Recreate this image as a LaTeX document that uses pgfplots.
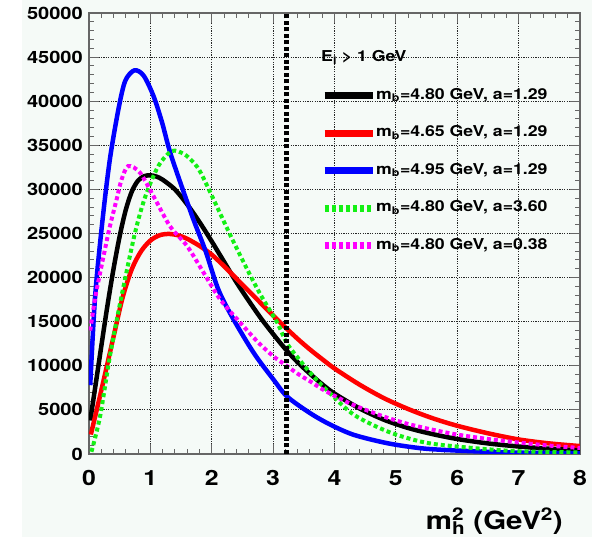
\documentclass[border=0pt]{standalone}
\usepackage{fontspec}
\setmainfont{TeX Gyre Heros}[FakeStretch=1.18]
\usepackage{pgfplots}
\pgfplotsset{compat=1.18}
\definecolor{canvas}{RGB}{245,250,247}
\definecolor{rootgreen}{RGB}{20,240,20}
\definecolor{rootmagenta}{RGB}{255,0,255}
\definecolor{rootblue}{RGB}{0,0,255}
\definecolor{rootred}{RGB}{255,0,0}

\begin{document}
\begin{tikzpicture}
\fill[white] (-89pt,-83pt) rectangle (503pt,454pt);
\fill[canvas] (-67pt,-83pt) rectangle (503pt,454pt);
\useasboundingbox (-89pt,-83pt) rectangle (503pt,454pt);
\begin{axis}[
    scale only axis,
    width=491pt, height=441pt,
    xmin=0, xmax=8, ymin=0, ymax=50000,
    xtick={0,1,...,8},
    ytick={0,5000,...,50000},
    minor x tick num=4, minor y tick num=4,
    scaled y ticks=false,
    /pgf/number format/.cd, 1000 sep={}, assume math mode=true,
    /pgfplots/.cd,
    tick align=inside,
    major tick length=10pt, minor tick length=5pt,
    every tick/.style={line width=1pt, black!60},
    axis line style={line width=1.2pt, black!60},
    grid=major,
    major grid style={dash pattern=on 1.2pt off 1.2pt, line width=0.8pt, black!85},
    xticklabel style={font=\fontsize{21}{24}\selectfont\bfseries, inner sep=0pt, yshift=-16pt},
    yticklabel style={font=\fontsize{17}{20}\selectfont\bfseries, inner sep=0pt, xshift=-6pt},
    xlabel={m\rlap{\textsuperscript{2}}\textsubscript{h} (GeV\textsuperscript{2})},
    xlabel style={at={(rel axis cs:1,0)}, anchor=base east, xshift=-17pt, yshift=-76pt,
        inner sep=0pt, font=\fontsize{25}{30}\selectfont\bfseries},
    legend style={at={(rel axis cs:0.4725,0.915)}, anchor=north west, draw=none, fill=none,
        inner sep=0pt, row sep=22.5pt, font=\fontsize{15}{18}\selectfont\bfseries,
        cells={anchor=west}, nodes={inner sep=0pt, text height=11pt, text depth=4pt},
        /tikz/every even column/.append style={column sep=7pt}},
    legend image code/.code={\draw[#1, line width=7pt] (0pt,0pt) -- (48pt,0pt);},
    every axis plot/.append style={smooth, tension=0.5},
]
\addlegendimage{empty legend}
\addlegendentry{\hspace{-55pt}E\textsubscript{l} > 1 GeV}

% m_b = 4.80, a = 1.29
\addplot[black, line width=4.5pt] coordinates {
    (0.02,3800)(0.1,7500)(0.2,12200)(0.3,16800)(0.4,21000)(0.5,24700)
    (0.6,27700)(0.7,29800)(0.8,31000)(0.9,31500)(1.0,31600)(1.1,31450)
    (1.2,31100)(1.4,30000)(1.6,28300)(1.8,26300)(2.0,24100)(2.2,21800)
    (2.4,19500)(2.6,17400)(2.8,15400)(3.0,13600)(3.2,11900)(3.4,10400)
    (3.6,9100)(3.8,7900)(4.0,6850)(4.4,5200)(4.8,3900)(5.2,2950)
    (5.6,2250)(6.0,1700)(6.5,1200)(7.0,850)(7.5,600)(8.0,450)};
\addlegendentry{m\textsubscript{b}=4.80 GeV, a=1.29}

% m_b = 4.65, a = 1.29
\addplot[rootred, line width=4.5pt] coordinates {
    (0.03,2200)(0.2,7200)(0.4,13300)(0.55,17800)(0.7,21000)(0.85,23000)
    (1.0,24200)(1.15,24800)(1.3,24950)(1.45,24800)(1.6,24400)(1.8,23600)
    (2.0,22600)(2.2,21300)(2.4,19900)(2.6,18500)(2.8,17100)(3.0,15700)
    (3.2,14350)(3.4,13050)(3.6,11850)(3.8,10750)(4.0,9700)(4.4,7900)
    (4.8,6350)(5.2,5100)(5.6,4050)(6.0,3200)(6.5,2350)(7.0,1650)
    (7.5,1200)(8.0,900)};
\addlegendentry{m\textsubscript{b}=4.65 GeV, a=1.29}

% m_b = 4.95, a = 1.29
\addplot[rootblue, line width=4.5pt] coordinates {
    (0.02,7800)(0.10,17900)(0.22,26500)(0.34,33400)(0.48,39100)(0.59,42300)
    (0.74,43500)(0.89,42900)(1.05,40600)(1.19,37600)(1.34,33800)(1.68,27000)
    (1.90,23000)(2.11,18600)(2.36,15200)(2.69,11400)(3.01,8400)(3.23,6500)
    (3.61,4600)(3.94,3300)(4.32,2160)(4.87,1210)(5.41,650)(5.90,420)
    (6.5,250)(7.0,150)(8.0,80)};
\addlegendentry{m\textsubscript{b}=4.95 GeV, a=1.29}

% m_b = 4.80, a = 3.60
\addplot[rootgreen, line width=4pt, dash pattern=on 4pt off 3pt] coordinates {
    (0.04,250)(0.18,4240)(0.34,11060)(0.53,17900)(0.75,25080)(0.92,29240)
    (1.13,32650)(1.35,34350)(1.55,34000)(1.71,33000)(1.82,31900)(2.03,28860)
    (2.31,24700)(2.58,20900)(2.80,18000)(3.07,14850)(3.22,12600)(3.45,10500)
    (3.67,8700)(3.94,6800)(4.32,4430)(4.87,2540)(5.41,1400)(5.90,910)
    (6.91,340)(8.0,180)};
\addlegendentry{m\textsubscript{b}=4.80 GeV, a=3.60}

% m_b = 4.80, a = 0.38
\addplot[rootmagenta, line width=4pt, dash pattern=on 4pt off 3pt] coordinates {
    (0.02,14000)(0.10,17700)(0.18,20500)(0.26,23200)(0.34,25800)(0.45,28860)
    (0.53,31100)(0.64,32650)(0.83,31900)(1.05,29240)(1.32,25830)(1.60,23560)
    (1.87,20530)(2.14,17500)(2.47,14850)(2.75,12700)(3.0,11100)(3.2,10100)
    (3.4,9100)(3.6,8250)(3.8,7350)(4.0,6600)(4.2,5900)(4.4,5300)(4.8,4250)
    (5.2,3400)(5.6,2750)(6.0,2200)(6.5,1700)(7.0,1300)(7.5,950)(8.0,680)};
\addlegendentry{m\textsubscript{b}=4.80 GeV, a=0.38}

% cut line
\addplot[black, line width=5pt, dash pattern=on 4pt off 2.5pt, forget plot, sharp plot]
    coordinates {(3.22,0)(3.22,50000)};
\end{axis}
\end{tikzpicture}
\end{document}
